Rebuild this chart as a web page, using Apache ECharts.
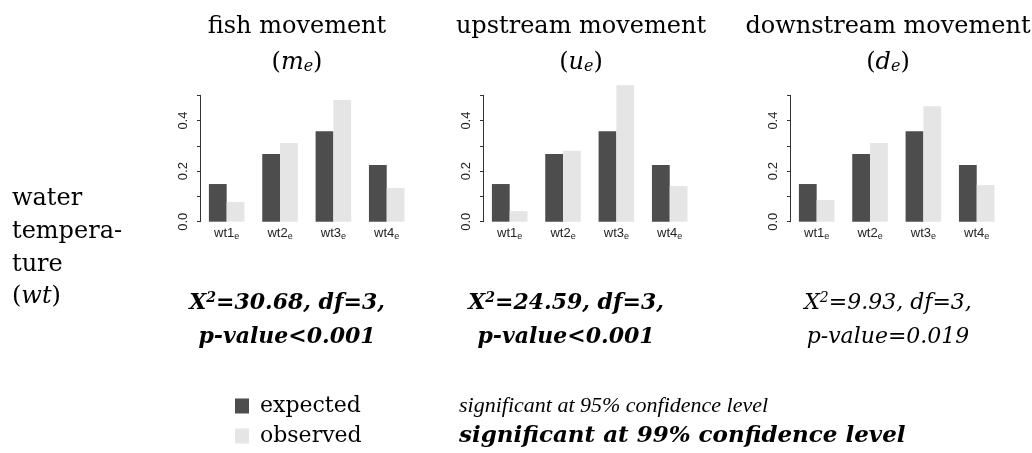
<!DOCTYPE html>
<html><head><meta charset="utf-8">
<script src="https://cdn.jsdelivr.net/npm/echarts@6/dist/echarts.min.js"></script>
<style>html,body{margin:0;padding:0;background:#fff}#c{width:1032px;height:453px}</style>
</head><body><div id="c"></div>
<script>
// ---- data ----
const categories = ['wt1', 'wt2', 'wt3', 'wt4'];
const fishExpected = [0.149, 0.268, 0.358, 0.224];
const fishObserved = [0.078, 0.311, 0.481, 0.133];
const upExpected = [0.149, 0.268, 0.358, 0.224];
const upObserved = [0.042, 0.281, 0.540, 0.141];
const downExpected = [0.149, 0.268, 0.358, 0.224];
const downObserved = [0.086, 0.311, 0.457, 0.145];
const panelTitles = ['fish movement', 'upstream movement', 'downstream movement'];
const panelSymbols = ['m', 'u', 'd'];
const chiSq = ['30.68', '24.59', '9.93'];
const dfValues = ['3', '3', '3'];
const pValues = ['<0.001', '<0.001', '=0.019'];
const sig99 = [true, true, false];
const yMin = 0, yMax = 0.5, yStep = 0.1;
const seriesNames = ['expected', 'observed'];
const rowLabel = ['water', 'tempera-', 'ture'];
const sigLabels = ['significant at 95% confidence level', 'significant at 99% confidence level'];

// ---- layout ----
const panelData = [[fishExpected, fishObserved], [upExpected, upObserved], [downExpected, downObserved]];
const gridLefts = [200, 483, 790];
const gridW = 213.4, gridTop = 95.3, gridH = 126.4;
const titleCenters = [297, 581, 888];
const statCenters = [287, 566, 888];
const colors = ['#4d4d4d', '#e5e5e5'];
const SERIF = 'DejaVu Serif';
const SANS = 'Liberation Sans';

const grids = [], xAxes = [], yAxes = [], series = [];
panelData.forEach((pd, i) => {
  grids.push({ left: gridLefts[i], top: gridTop, width: gridW, height: gridH, containLabel: false });
  xAxes.push({
    gridIndex: i, type: 'category', data: categories,
    axisLine: { show: false }, axisTick: { show: false }, splitLine: { show: false },
    axisLabel: {
      interval: 0, margin: 5, color: '#222',
      formatter: v => '{a|' + v + '}{s|e}',
      rich: {
        a: { fontFamily: SANS, fontSize: 13, lineHeight: 14, color: '#222' },
        s: { fontFamily: SANS, fontSize: 9, lineHeight: 6, verticalAlign: 'bottom', color: '#222' }
      }
    }
  });
  yAxes.push({
    gridIndex: i, type: 'value', min: yMin, max: yMax, interval: yStep,
    axisLine: { show: true, lineStyle: { color: '#333', width: 1 } },
    axisTick: { show: true, length: 3, lineStyle: { color: '#333' } },
    splitLine: { show: false },
    axisLabel: {
      rotate: 90, margin: 10, fontFamily: SANS, fontSize: 13, color: '#222',
      formatter: v => (Math.round(v * 10) % 2 === 0 ? v.toFixed(1) : '')
    }
  });
  pd.forEach((vals, k) => {
    series.push({
      type: 'bar', name: seriesNames[k], xAxisIndex: i, yAxisIndex: i,
      data: vals, barGap: '0%', barCategoryGap: '33.33%', clip: false,
      itemStyle: { color: colors[k] }, emphasis: { disabled: true }
    });
  });
});

function T(x, y, text, rich, align) {
  return { type: 'text', x: x, y: y, silent: true,
    style: { text: text, rich: rich, align: align || 'center', verticalAlign: 'middle', fill: '#000' } };
}
const g = [];
const base = { fontFamily: SERIF, fontSize: 24, lineHeight: 24, color: '#000', fill: '#000' };
panelTitles.forEach((t, i) => {
  g.push(T(titleCenters[i], 27, '{n|' + t + '}', { n: base }));
  g.push(T(titleCenters[i], 63, '{n|(}{i|' + panelSymbols[i] + '}{s|e}{n|)}', {
    n: base,
    i: Object.assign({}, base, { fontStyle: 'italic' }),
    s: Object.assign({}, base, { fontStyle: 'italic', fontSize: 16, lineHeight: 12, verticalAlign: 'bottom' })
  }));
  const w = sig99[i] ? 'bold' : 'normal';
  const st = { fontFamily: SERIF, fontSize: 22, lineHeight: 24, fontStyle: 'italic', fontWeight: w, color: '#000', fill: '#000' };
  g.push(T(statCenters[i], 303, '{b|X}{p|2}{b|=' + chiSq[i] + ', df=' + dfValues[i] + ',}', {
    b: st, p: Object.assign({}, st, { fontSize: 14, lineHeight: 10, verticalAlign: 'top' })
  }));
  g.push(T(statCenters[i], 337, '{b|p-value' + pValues[i] + '}', { b: st }));
});
rowLabel.forEach((t, k) => g.push(T(12, 199 + 33 * k, '{n|' + t + '}', { n: base }, 'left')));
g.push(T(12, 297, '{n|(}{i|wt}{n|)}', { n: base, i: Object.assign({}, base, { fontStyle: 'italic' }) }, 'left'));
const sigSt = { fontFamily: 'Liberation Serif', fontSize: 22, lineHeight: 24, fontStyle: 'italic', color: '#000', fill: '#000' };
g.push(T(459, 406, '{b|' + sigLabels[0] + '}', { b: sigSt }, 'left'));
g.push(T(459, 436, '{b|' + sigLabels[1] + '}', { b: Object.assign({}, sigSt, { fontFamily: SERIF, fontSize: 23, fontWeight: 'bold' }) }, 'left'));

const legendBase = {
  orient: 'vertical', left: 235, padding: 0, itemWidth: 14, itemHeight: 15,
  icon: 'rect', selectedMode: false,
  textStyle: { fontFamily: SERIF, fontSize: 22, lineHeight: 24, color: '#000', padding: [0, 0, 0, 6] }
};
const legends = seriesNames.map((n, k) => Object.assign({}, legendBase, { data: [n], top: 394 + 30 * k }));

const chart = echarts.init(document.getElementById('c'), null, { renderer: 'canvas' });
chart.setOption({
  animation: false, backgroundColor: '#fff',
  grid: grids, xAxis: xAxes, yAxis: yAxes, series: series,
  legend: legends,
  graphic: g
});
</script></body></html>
